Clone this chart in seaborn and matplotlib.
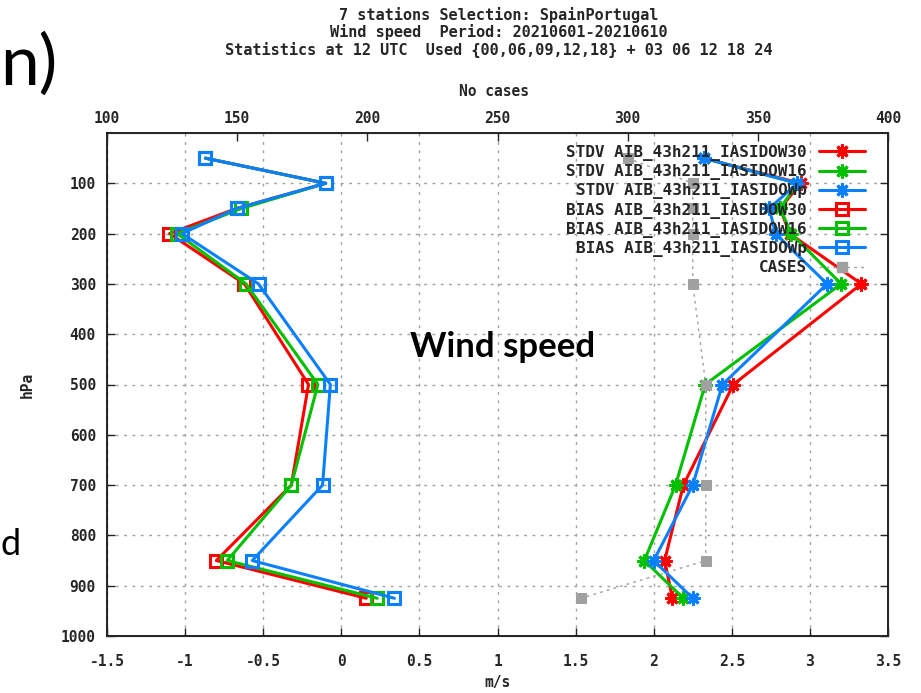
import matplotlib
matplotlib.use("Agg")
import matplotlib.pyplot as plt
import seaborn as sns
import pandas as pd
from matplotlib.lines import Line2D

# ---------------- data ----------------
levels = [50, 100, 150, 200, 300, 500, 700, 850, 925]

stdv_ow30 = [2.32, 2.94, 2.81, 2.87, 3.33, 2.51, 2.19, 2.07, 2.12]
stdv_ow16 = [2.32, 2.92, 2.81, 2.88, 3.20, 2.33, 2.14, 1.94, 2.19]
stdv_owp  = [2.32, 2.92, 2.74, 2.78, 3.11, 2.44, 2.25, 2.00, 2.25]

bias_ow30 = [-0.87, -0.10, -0.67, -1.10, -0.62, -0.21, -0.32, -0.80, 0.16]
bias_ow16 = [-0.87, -0.10, -0.64, -1.05, -0.61, -0.15, -0.32, -0.73, 0.23]
bias_owp  = [-0.87, -0.10, -0.67, -1.02, -0.53, -0.07, -0.12, -0.57, 0.34]

cases = [300, 325, 325, 325, 325, 330, 330, 330, 282]

labels = ["STDV AIB_43h211_IASIDOW30", "STDV AIB_43h211_IASIDOW16",
          "STDV AIB_43h211_IASIDOWp", "BIAS AIB_43h211_IASIDOW30",
          "BIAS AIB_43h211_IASIDOW16", "BIAS AIB_43h211_IASIDOWp", "CASES"]

title_lines = ["7 stations Selection: SpainPortugal",
               "Wind speed  Period: 20210601-20210610",
               "Statistics at 12 UTC  Used {00,06,09,12,18} + 03 06 12 18 24"]

x_ticks = [-1.5, -1, -0.5, 0, 0.5, 1, 1.5, 2, 2.5, 3, 3.5]
x_ticklabels = ["-1.5", "-1", "-0.5", "0", "0.5", "1", "1.5", "2", "2.5", "3", "3.5"]
top_ticks = [100, 150, 200, 250, 300, 350, 400]
y_ticks = [100, 200, 300, 400, 500, 600, 700, 800, 900, 1000]

# ---------------- style ----------------
sns.set_style("white")
mono = "DejaVu Sans Mono"
RED, GREEN, BLUE, GREY = "#ff0000", "#00c000", "#0a80ff", "#a0a0a0"
star = (8, 2, 0)
SQ_SIZE, STAR_SIZE = 8, 10

fig = plt.figure(figsize=(9.21, 6.93), dpi=100)
ax = fig.add_axes([107/921, 57/693, 781/921, 503/693])

series = [
    (stdv_ow30, RED, star), (stdv_ow16, GREEN, star), (stdv_owp, BLUE, star),
    (bias_ow30, RED, "s"), (bias_ow16, GREEN, "s"), (bias_owp, BLUE, "s"),
]
handles = []
for vals, col, mk in series:
    d = pd.DataFrame({"val": vals, "lev": levels})
    ms = SQ_SIZE if mk == "s" else STAR_SIZE
    fc = "none" if mk == "s" else col
    sns.lineplot(data=d, x="val", y="lev", sort=False, estimator=None, ax=ax,
                 color=col, linewidth=2.2, marker=mk, markersize=ms,
                 markeredgewidth=2.2, markeredgecolor=col,
                 markerfacecolor=fc, zorder=3)
    handles.append(Line2D([], [], color=col, linewidth=2.2, marker=mk,
                          markersize=ms, markeredgewidth=2.2,
                          markeredgecolor=col, markerfacecolor=fc))

ax.set_xlim(-1.5, 3.5)
ax.set_ylim(1000, 0)
ax.set_xticks(x_ticks)
ax.set_xticklabels(x_ticklabels)
ax.set_yticks(y_ticks)
ax.set_yticklabels([str(v) for v in y_ticks])
ax.set_xlabel("")
ax.set_ylabel("")
ax.grid(True, color="#a0a0a0", linestyle=(0, (2, 4)), linewidth=1.0)
ax.tick_params(axis="x", direction="in", length=6, width=1, labelsize=10.5,
               pad=13, top=True, bottom=True)
ax.tick_params(axis="y", direction="in", length=6, width=1, labelsize=10.5,
               pad=8, right=True, left=True)
for lab in ax.get_xticklabels() + ax.get_yticklabels():
    lab.set_family(mono)
    lab.set_fontweight("bold")
for sp in ax.spines.values():
    sp.set_color("black")
    sp.set_linewidth(1.2)

ax2 = ax.twiny()
dc = pd.DataFrame({"cases": cases, "lev": levels})
sns.lineplot(data=dc, x="cases", y="lev", sort=False, estimator=None, ax=ax2,
             color=GREY, linewidth=1.0, linestyle=(0, (2, 3)), marker="s",
             markersize=6.5, markeredgecolor=GREY, markerfacecolor=GREY, zorder=5)
handles.append(Line2D([], [], color=GREY, linewidth=1.0, linestyle=(0, (2, 3)),
                      marker="s", markersize=6.5, markeredgecolor=GREY,
                      markerfacecolor=GREY))
ax2.set_xlim(100, 400)
ax2.set_ylim(1000, 0)
ax2.set_xticks(top_ticks)
ax2.set_xticklabels([str(v) for v in top_ticks])
ax2.set_xlabel("")
ax2.set_ylabel("")
ax2.tick_params(axis="x", direction="in", length=6, width=1, labelsize=10.5, pad=5)
for lab in ax2.get_xticklabels():
    lab.set_family(mono)
    lab.set_fontweight("bold")
ax2.grid(False)
ax2.set_zorder(ax.get_zorder() + 1)
ax2.patch.set_visible(False)

leg = ax2.legend(handles, labels, loc="upper right",
                 bbox_to_anchor=(873/921, 1 - 137/693), bbox_transform=fig.transFigure,
                 frameon=False, markerfirst=False, handlelength=2.9,
                 handletextpad=0.75, labelspacing=0.2, borderpad=0,
                 prop={"family": mono, "weight": "bold", "size": 11.5})
for t in leg.get_texts():
    t.set_ha("right")

# titles and axis labels
tys = [15, 32, 50]
for line, ty in zip(title_lines, tys):
    fig.text(499/921, 1 - ty/693, line, ha="center", va="center",
             family=mono, weight="bold", fontsize=11)
fig.text(494/921, 1 - 92/693, "No cases", ha="center", va="center",
         family=mono, weight="bold", fontsize=10.5)
fig.text(497/921, 1 - 683/693, "m/s", ha="center", va="center",
         family=mono, weight="bold", fontsize=10.5)
fig.text(27/921, 1 - 385/693, "hPa", ha="center", va="center", rotation=90,
         family=mono, weight="bold", fontsize=10.5)

# slide overlays
fig.text(0/921, 1 - 85/693, "n)", ha="left", va="baseline", family="Lato",
         fontsize=50, color="black")
fig.text(503/921, 1 - 357/693, "Wind speed", ha="center", va="baseline",
         family="Lato", weight="bold", fontsize=25, color="black")
fig.text(0/921, 1 - 555/693, "d", ha="left", va="baseline", family="Lato",
         fontsize=26, color="black")

fig.savefig("out.png", dpi=100)
